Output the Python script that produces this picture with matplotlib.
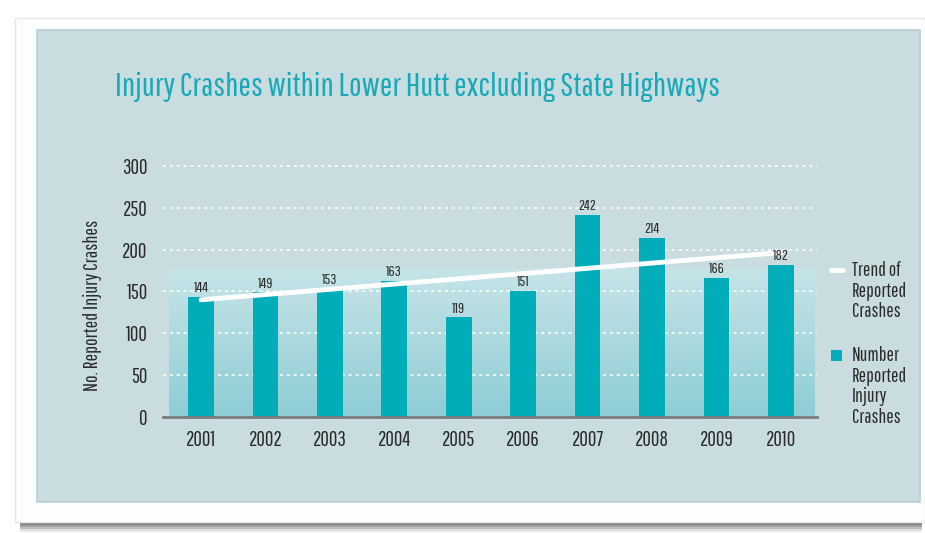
import numpy as np
import matplotlib.pyplot as plt
from matplotlib.patches import Rectangle
from matplotlib.lines import Line2D
from matplotlib.colors import LinearSegmentedColormap
from matplotlib import font_manager

# injury crashes per year
years = ['2001', '2002', '2003', '2004', '2005', '2006', '2007', '2008', '2009', '2010']
crashes = [144, 149, 153, 163, 119, 151, 242, 214, 166, 182]
y_ticks = [0, 50, 100, 150, 200, 250, 300]

names = {f.name for f in font_manager.fontManager.ttflist}
fams = [f for f in ['Pathway Gothic One', 'Roboto Condensed'] if f in names]
plt.rcParams['font.family'] = fams + ['DejaVu Sans']

teal = '#00adb9'
panel = '#c9dde1'
ink = '#2a2a2a'

fig = plt.figure(figsize=(9.25, 5.33), dpi=100)
fig.patch.set_facecolor('white')

# card with a soft shadow underneath, then the coloured panel
for i, a in enumerate([0.08, 0.15, 0.25, 0.38, 0.5]):
    fig.patches.append(Rectangle((0.022, 0.0 + 0.0038 * i), 0.975, 0.021 - 0.0038 * i,
                                 transform=fig.transFigure, facecolor='#6a6a6a',
                                 edgecolor='none', alpha=a, zorder=-5))
fig.patches.append(Rectangle((0.016, 0.021), 0.984, 0.945, transform=fig.transFigure,
                             facecolor='#fcfdfd', edgecolor='#e4e8e9', lw=1, zorder=-4))
fig.patches.append(Rectangle((0.04, 0.058), 0.955, 0.885, transform=fig.transFigure,
                             facecolor=panel, edgecolor='#b9cdd2', lw=1.2, zorder=-3))

ax = fig.add_axes([0.1762, 0.2176, 0.707, 0.471])
ax.set_facecolor('none')
x = np.arange(len(years))

# soft gradient band behind the bars
grad = np.linspace(0, 1, 100).reshape(-1, 1)
cmap = LinearSegmentedColormap.from_list('band', ['#8fcdd5', '#c6e4e8'])
ax.imshow(grad, cmap=cmap, origin='lower', aspect='auto',
          extent=(-0.5, 9.52, 0, 178), zorder=0)

for t in y_ticks[1:]:
    ax.axhline(t, color='white', lw=1.1, ls=(0, (2, 2.5)), zorder=1, clip_on=False)

ax.bar(x, crashes, width=0.4, color=teal, zorder=2)
for xi, v in zip(x, crashes):
    ax.text(xi, v + 2, str(v), ha='center', va='bottom', fontsize=11, color=ink, zorder=4)

# linear trend through the yearly counts
slope, icpt = np.polyfit(x, crashes, 1)
ax.plot([x[0], x[-1]], [icpt, icpt + slope * x[-1]], color='white', lw=3.5,
        solid_capstyle='round', zorder=3)

ax.set_xlim(-0.59, 9.56)
ax.set_ylim(0, 300)
ax.set_xticks(x)
ax.set_xticklabels(years, fontsize=15, color=ink)
ax.set_yticks(y_ticks)
ax.set_yticklabels([str(t) for t in y_ticks], fontsize=15, color=ink)
ax.tick_params(length=0)
ax.tick_params(axis='x', pad=9)
ax.tick_params(axis='y', pad=11)
for s in ['top', 'right', 'left']:
    ax.spines[s].set_visible(False)
ax.spines['bottom'].set_color('#7c7c7c')
ax.spines['bottom'].set_linewidth(2)
ax.spines['bottom'].set_zorder(5)

fig.text(0.0995, 0.428, 'No. Reported Injury Crashes', rotation=90, ha='center', va='center',
         fontsize=14.5, color=ink)

fig.text(0.124, 0.837, 'Injury Crashes within Lower Hutt excluding State Highways',
         fontsize=24, color='#19a9b7', ha='left', va='center')

# legend
fig.lines.append(Line2D([0.898, 0.911], [0.4935, 0.4935], transform=fig.transFigure,
                        color='white', lw=3.5, solid_capstyle='round'))
fig.text(0.921, 0.510, 'Trend of\nReported\nCrashes', fontsize=14, color=ink,
         ha='left', va='top', linespacing=1.1)
fig.patches.append(Rectangle((0.898, 0.323), 0.012, 0.021, transform=fig.transFigure,
                             facecolor=teal, edgecolor='none', zorder=3))
fig.text(0.921, 0.350, 'Number\nReported\nInjury\nCrashes', fontsize=14, color=ink,
         ha='left', va='top', linespacing=1.1)

fig.savefig('out.png', dpi=100)
